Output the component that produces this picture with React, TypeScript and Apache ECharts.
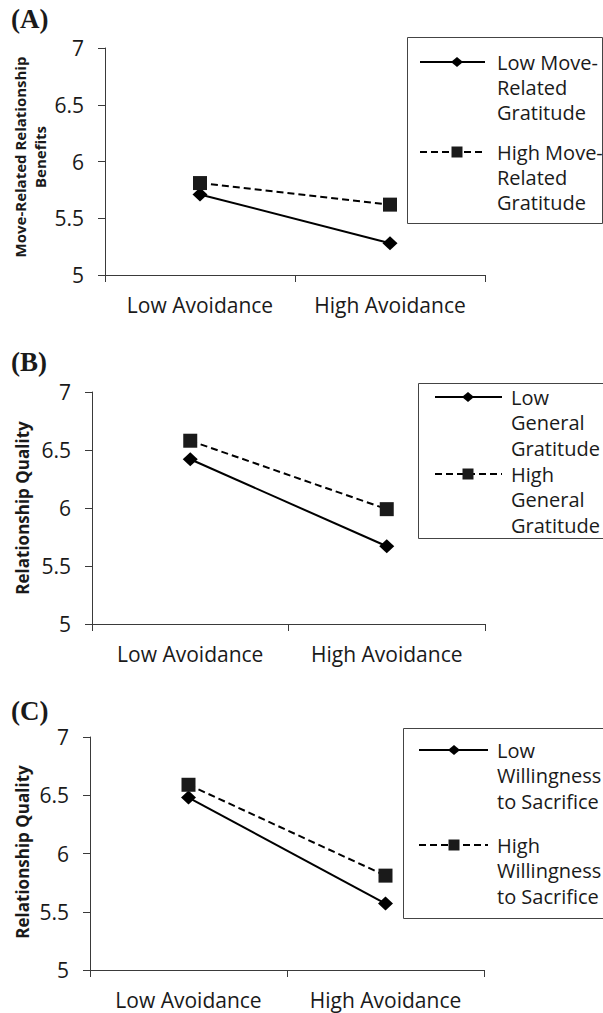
import React, { useEffect, useRef } from "react";
import * as echarts from "echarts";

const categories = ["Low Avoidance", "High Avoidance"];
const aLow = [5.71, 5.28];
const aHigh = [5.81, 5.62];
const bLow = [6.42, 5.67];
const bHigh = [6.58, 5.99];
const cLow = [6.48, 5.57];
const cHigh = [6.59, 5.81];

const panelLabels = ["(A)", "(B)", "(C)"];
const legendA = [["Low Move-", "Related", "Gratitude"], ["High Move-", "Related", "Gratitude"]];
const legendB = [["Low", "General", "Gratitude"], ["High", "General", "Gratitude"]];
const legendC = [["Low", "Willingness", "to Sacrifice"], ["High", "Willingness", "to Sacrifice"]];

const FONT = "'Open Sans', 'Noto Sans', sans-serif";
const AX = "#3a3a3a";

function legendGraphics(
  box: { x: number; y: number; w: number; h: number },
  lx1: number,
  lx2: number,
  mx: number,
  tx: number,
  rowY: number[],
  lh: number,
  labels: string[][]
) {
  const els: any[] = [];
  els.push({
    type: "rect",
    shape: { x: box.x, y: box.y, width: box.w, height: box.h },
    style: { fill: "#fff", stroke: "#444", lineWidth: 1 },
  });
  rowY.forEach((y0, i) => {
    els.push({
      type: "line",
      shape: { x1: lx1, y1: y0, x2: lx2, y2: y0 },
      style: { stroke: "#000", lineWidth: 2, lineDash: i === 0 ? null : [7, 4] },
    });
    if (i === 0) {
      els.push({
        type: "polygon",
        shape: { points: [[mx, y0 - 5], [mx + 6, y0], [mx, y0 + 5], [mx - 6, y0]] },
        style: { fill: "#000" },
      });
    } else {
      els.push({
        type: "rect",
        shape: { x: mx - 5.5, y: y0 - 5.5, width: 11, height: 11 },
        style: { fill: "#1a1a1a" },
      });
    }
    els.push({
      type: "text",
      style: {
        text: labels[i].join("\n"),
        x: tx,
        y: y0 - lh / 2,
        font: `20px ${FONT}`,
        lineHeight: lh,
        fill: "#1a1a1a",
        textAlign: "left",
        textVerticalAlign: "top",
      },
    });
  });
  return els;
}

export default function App() {
  const ref = useRef<HTMLDivElement>(null);
  useEffect(() => {
    if (!ref.current) return;
    const chart = echarts.init(ref.current, null, { renderer: "svg" });

    const grids = [
      { left: 105, top: 48, width: 380, height: 227 },
      { left: 92, top: 392, width: 393, height: 232 },
      { left: 90, top: 737, width: 394, height: 233 },
    ];

    const xAxes = grids.map((_, i) => ({
      type: "category",
      gridIndex: i,
      data: categories,
      boundaryGap: true,
      axisLine: { lineStyle: { color: AX, width: 1 } },
      axisTick: { show: true, length: 7, lineStyle: { color: AX } },
      axisLabel: {
        color: "#1a1a1a",
        fontSize: 21,
        fontFamily: FONT,
        margin: 19,
        interval: 0,
        hideOverlap: false,
      },
      splitLine: { show: false },
    }));
    const yAxes = grids.map((_, i) => ({
      type: "value",
      gridIndex: i,
      min: 5,
      max: 7,
      interval: 0.5,
      axisLine: { show: true, lineStyle: { color: AX, width: 1 } },
      axisTick: { show: true, length: 7, lineStyle: { color: AX } },
      axisLabel: { color: "#1a1a1a", fontSize: 21, fontFamily: FONT, margin: 21 },
      splitLine: { show: false },
    }));

    const mk = (data: number[], idx: number, high: boolean) => ({
      type: "line",
      xAxisIndex: idx,
      yAxisIndex: idx,
      data,
      symbol: high ? "rect" : "diamond",
      symbolSize: high ? [14, 14] : [15, 14],
      itemStyle: { color: high ? "#1a1a1a" : "#000" },
      lineStyle: { color: "#000", width: 2, type: high ? [7, 4] : "solid" },
      z: high ? 3 : 2,
    });

    const graphics: any[] = [];
    const labelY = [19, 362, 711];
    panelLabels.forEach((t, i) => {
      graphics.push({
        type: "text",
        style: {
          text: t,
          x: 11,
          y: labelY[i],
          font: "bold 27px 'Liberation Serif', 'DejaVu Serif', serif",
          fill: "#1a1a1a",
          textAlign: "left",
          textVerticalAlign: "middle",
        },
      });
    });
    graphics.push({
      type: "text",
      x: 30,
      y: 157,
      rotation: Math.PI / 2,
      style: {
        text: "Move-Related Relationship\nBenefits",
        font: `bold 15px ${FONT}`,
        lineHeight: 20,
        fill: "#1a1a1a",
        textAlign: "center",
        textVerticalAlign: "middle",
      },
    });
    [508, 852].forEach((cy) => {
      graphics.push({
        type: "text",
        x: 22,
        y: cy,
        rotation: Math.PI / 2,
        style: {
          text: "Relationship Quality",
          font: `bold 17px ${FONT}`,
          fill: "#1a1a1a",
          textAlign: "center",
          textVerticalAlign: "middle",
        },
      });
    });

    graphics.push(
      ...legendGraphics({ x: 407.5, y: 37.5, w: 195, h: 186 }, 420, 485, 457, 497,
        [62, 152], 25, legendA)
    );
    graphics.push(
      ...legendGraphics({ x: 418.5, y: 383.5, w: 190, h: 155 }, 435, 502, 468, 511,
        [397, 474], 25.5, legendB)
    );
    graphics.push(
      ...legendGraphics({ x: 403.5, y: 728.5, w: 205, h: 190 }, 419, 488, 454, 497,
        [750, 845], 25.5, legendC)
    );

    chart.setOption({
      animation: false,
      backgroundColor: "#fff",
      grid: grids,
      xAxis: xAxes,
      yAxis: yAxes,
      series: [
        mk(aLow, 0, false),
        mk(aHigh, 0, true),
        mk(bLow, 1, false),
        mk(bHigh, 1, true),
        mk(cLow, 2, false),
        mk(cHigh, 2, true),
      ],
      graphic: graphics,
    });
    return () => chart.dispose();
  }, []);
  return (
    <div
      ref={ref}
      style={{ position: "absolute", left: 0, top: 0, width: 603, height: 1013, background: "#fff" }}
    />
  );
}
